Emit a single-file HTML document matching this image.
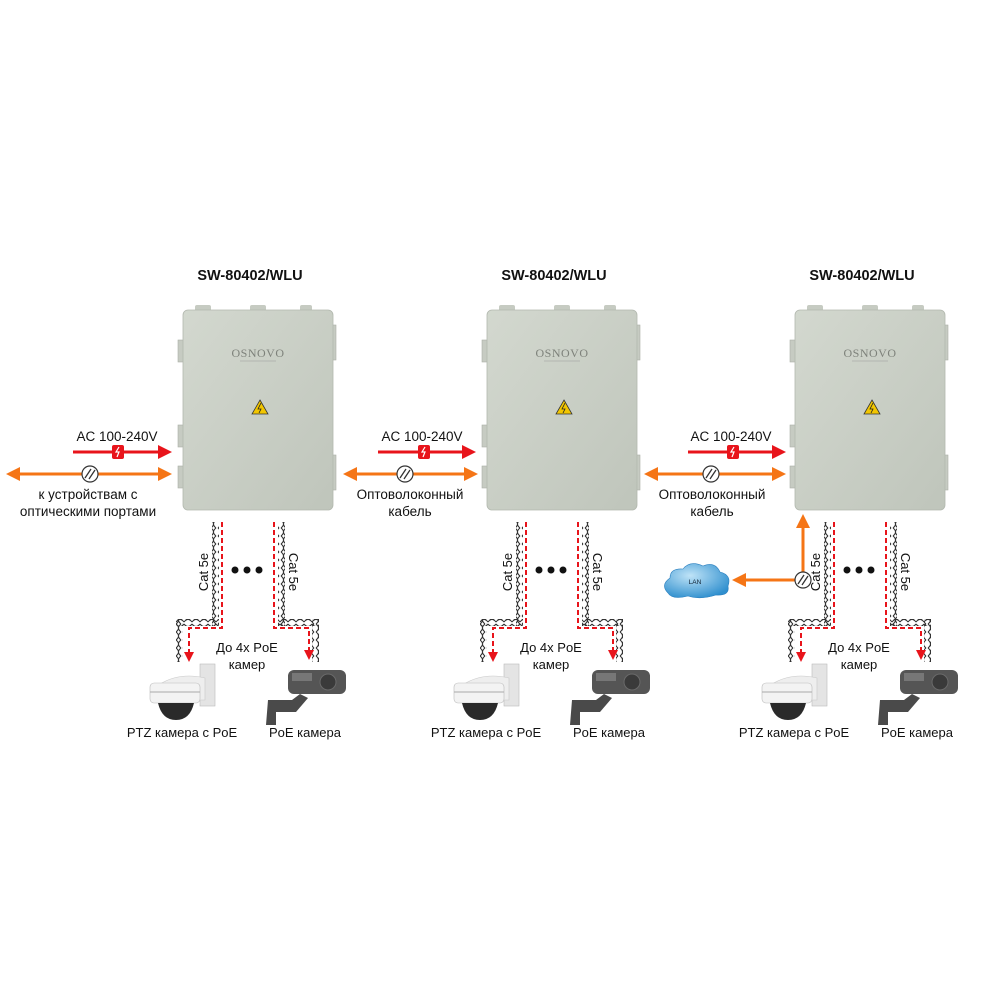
<!DOCTYPE html>
<html><head><meta charset="utf-8"><style>
html,body{margin:0;padding:0;background:#fff;}
svg{display:block;font-family:"Liberation Sans",Arial,sans-serif;}
</style></head><body>
<svg width="1000" height="1000" viewBox="0 0 1000 1000" xmlns="http://www.w3.org/2000/svg">
<defs>
<pattern id="tv" width="7" height="8" patternUnits="userSpaceOnUse">
<path d="M1,0 Q6,4 1,8 M6,0 Q1,4 6,8" fill="none" stroke="#333" stroke-width="1.1"/>
</pattern>
<pattern id="th" width="8" height="7" patternUnits="userSpaceOnUse">
<path d="M0,1 Q4,6 8,1 M0,6 Q4,1 8,6" fill="none" stroke="#333" stroke-width="1.1"/>
</pattern>
<linearGradient id="bx" x1="0" y1="0" x2="1" y2="1">
<stop offset="0" stop-color="#d3d8cf"/><stop offset="1" stop-color="#bfc5bb"/>
</linearGradient>
<radialGradient id="cl" cx="0.4" cy="0.35" r="0.7">
<stop offset="0" stop-color="#bfe3f7"/><stop offset="1" stop-color="#2f8fce"/>
</radialGradient>
<g id="unit">
<text x="250" y="280" text-anchor="middle" font-size="14.5" font-weight="bold" fill="#111">SW-80402/WLU</text>
<rect x="178" y="340" width="8" height="22" fill="#c6cbc2" stroke="#aab0a6" stroke-width="0.6"/>
<rect x="178" y="425" width="8" height="22" fill="#c6cbc2" stroke="#aab0a6" stroke-width="0.6"/>
<rect x="178" y="466" width="8" height="22" fill="#c6cbc2" stroke="#aab0a6" stroke-width="0.6"/>
<rect x="330" y="325" width="6" height="35" fill="#c6cbc2" stroke="#aab0a6" stroke-width="0.6"/>
<rect x="330" y="455" width="6" height="35" fill="#c6cbc2" stroke="#aab0a6" stroke-width="0.6"/>
<rect x="195" y="305" width="16" height="8" rx="2" fill="#c6cbc2"/>
<rect x="250" y="305" width="16" height="8" rx="2" fill="#c6cbc2"/>
<rect x="300" y="305" width="12" height="8" rx="2" fill="#c6cbc2"/>
<rect x="183" y="310" width="150" height="200" rx="5" fill="url(#bx)" stroke="#b2b8ae" stroke-width="0.8"/>
<text x="258" y="357" text-anchor="middle" font-family="Liberation Serif,serif" font-size="12" fill="#7d817a" letter-spacing="0.5">OSNOVO</text>
<line x1="240" y1="361" x2="276" y2="361" stroke="#999" stroke-width="0.6"/>
<polygon points="260,400 268,414 252,414" fill="#f2c600" stroke="#333" stroke-width="0.8"/>
<path d="M261,403 L258,409 L261,409 L259,413" stroke="#222" stroke-width="0.8" fill="none"/>
<rect x="212" y="522" width="7" height="104" fill="url(#tv)"/>
<rect x="176" y="619" width="43" height="7" fill="url(#th)"/>
<rect x="176" y="619" width="7" height="43" fill="url(#tv)"/>
<path d="M222,522 V628 H189 V652" fill="none" stroke="#e8141b" stroke-width="2" stroke-dasharray="5,3"/>
<polygon points="184,652 194,652 189,662" fill="#e8141b"/>
<rect x="278" y="522" width="7" height="104" fill="url(#tv)"/>
<rect x="278" y="619" width="41" height="7" fill="url(#th)"/>
<rect x="312" y="619" width="7" height="43" fill="url(#tv)"/>
<path d="M274,522 V628 H309 V650" fill="none" stroke="#e8141b" stroke-width="2" stroke-dasharray="5,3"/>
<polygon points="304,650 314,650 309,660" fill="#e8141b"/>
<text transform="translate(208,572) rotate(-90)" text-anchor="middle" font-size="13" fill="#111">Cat 5e</text>
<text transform="translate(289,572) rotate(90)" text-anchor="middle" font-size="13" fill="#111">Cat 5e</text>
<circle cx="235" cy="570" r="3.5" fill="#111"/><circle cx="247" cy="570" r="3.5" fill="#111"/><circle cx="259" cy="570" r="3.5" fill="#111"/>
<text x="247" y="652" text-anchor="middle" font-size="13" fill="#111">До 4х PoE</text>
<text x="247" y="669" text-anchor="middle" font-size="13" fill="#111">камер</text>
<rect x="200" y="664" width="15" height="42" fill="#e4e4e4" stroke="#bbb" stroke-width="0.6"/>
<path d="M160,684 Q180,672 205,678 L205,700 L160,700 Z" fill="#eeeeee" stroke="#c8c8c8" stroke-width="0.6"/>
<rect x="150" y="683" width="50" height="20" rx="4" fill="#f3f3f3" stroke="#bbb" stroke-width="0.6"/>
<line x1="150" y1="692" x2="200" y2="692" stroke="#aaa" stroke-width="1"/>
<path d="M158,703 H194 Q190,720 176,720 Q162,720 158,703 Z" fill="#2a2a2a"/>
<path d="M268,700 H292 L300,694 L308,698 L296,712 H276 V725 H266 Z" fill="#4a4a4a"/>
<rect x="288" y="670" width="58" height="24" rx="6" fill="#555"/>
<rect x="292" y="673" width="20" height="8" fill="#777"/>
<circle cx="328" cy="682" r="8" fill="#3a3a3a" stroke="#6a6a6a"/>
<text x="182" y="737" text-anchor="middle" font-size="13" fill="#111">PTZ камера с PoE</text>
<text x="305" y="737" text-anchor="middle" font-size="13" fill="#111">PoE камера</text>
</g>
</defs>

<use href="#unit"/>
<use href="#unit" transform="translate(304,0)"/>
<use href="#unit" transform="translate(612,0)"/>

<text x="117" y="441" text-anchor="middle" font-size="13.5" fill="#111">AC 100-240V</text>
<line x1="73" y1="452" x2="160" y2="452" stroke="#e8141b" stroke-width="3"/>
<polygon points="158,445 172,452 158,459" fill="#e8141b"/>
<rect x="112" y="445" width="12" height="14" rx="2" fill="#e8141b"/>
<path d="M119,447 L116,452 L119,452 L117,457" stroke="#fff" stroke-width="1.2" fill="none"/>
<line x1="18" y1="474" x2="160" y2="474" stroke="#f57516" stroke-width="3"/>
<polygon points="20,467 6,474 20,481" fill="#f57516"/>
<polygon points="158,467 172,474 158,481" fill="#f57516"/>
<circle cx="90" cy="474" r="8" fill="#fff" stroke="#333" stroke-width="1.2"/>
<path d="M85,478 L91,469 M89,479 L95,470" stroke="#333" stroke-width="1.3"/>
<text x="88" y="499" text-anchor="middle" font-size="13.5" fill="#111">к устройствам с</text>
<text x="88" y="516" text-anchor="middle" font-size="13.5" fill="#111">оптическими портами</text>

<text x="422" y="441" text-anchor="middle" font-size="13.5" fill="#111">AC 100-240V</text>
<line x1="378" y1="452" x2="464" y2="452" stroke="#e8141b" stroke-width="3"/>
<polygon points="462,445 476,452 462,459" fill="#e8141b"/>
<rect x="418" y="445" width="12" height="14" rx="2" fill="#e8141b"/>
<path d="M425,447 L422,452 L425,452 L423,457" stroke="#fff" stroke-width="1.2" fill="none"/>
<line x1="355" y1="474" x2="466" y2="474" stroke="#f57516" stroke-width="3"/>
<polygon points="357,467 343,474 357,481" fill="#f57516"/>
<polygon points="464,467 478,474 464,481" fill="#f57516"/>
<circle cx="405" cy="474" r="8" fill="#fff" stroke="#333" stroke-width="1.2"/>
<path d="M400,478 L406,469 M404,479 L410,470" stroke="#333" stroke-width="1.3"/>
<text x="410" y="499" text-anchor="middle" font-size="13.5" fill="#111">Оптоволоконный</text>
<text x="410" y="516" text-anchor="middle" font-size="13.5" fill="#111">кабель</text>

<text x="731" y="441" text-anchor="middle" font-size="13.5" fill="#111">AC 100-240V</text>
<line x1="688" y1="452" x2="774" y2="452" stroke="#e8141b" stroke-width="3"/>
<polygon points="772,445 786,452 772,459" fill="#e8141b"/>
<rect x="727" y="445" width="12" height="14" rx="2" fill="#e8141b"/>
<path d="M734,447 L731,452 L734,452 L732,457" stroke="#fff" stroke-width="1.2" fill="none"/>
<line x1="656" y1="474" x2="774" y2="474" stroke="#f57516" stroke-width="3"/>
<polygon points="658,467 644,474 658,481" fill="#f57516"/>
<polygon points="772,467 786,474 772,481" fill="#f57516"/>
<circle cx="711" cy="474" r="8" fill="#fff" stroke="#333" stroke-width="1.2"/>
<path d="M706,478 L712,469 M710,479 L716,470" stroke="#333" stroke-width="1.3"/>
<text x="712" y="499" text-anchor="middle" font-size="13.5" fill="#111">Оптоволоконный</text>
<text x="712" y="516" text-anchor="middle" font-size="13.5" fill="#111">кабель</text>

<line x1="803" y1="580" x2="803" y2="526" stroke="#f57516" stroke-width="3"/>
<polygon points="796,528 803,514 810,528" fill="#f57516"/>
<line x1="803" y1="580" x2="744" y2="580" stroke="#f57516" stroke-width="3"/>
<polygon points="746,573 732,580 746,587" fill="#f57516"/>
<circle cx="803" cy="580" r="8" fill="#fff" stroke="#333" stroke-width="1.2"/>
<path d="M798,584 L804,575 M802,585 L808,576" stroke="#333" stroke-width="1.3"/>
<path d="M668,593 Q660,585 670,578 Q670,568 683,569 Q690,560 703,566 Q715,561 720,572 Q732,575 728,586 Q730,596 716,595 Q700,600 688,596 Q672,600 668,593 Z" fill="url(#cl)" stroke="#2a7fbf" stroke-width="0.6"/>
<text x="695" y="584" text-anchor="middle" font-size="6.5" fill="#123">LAN</text>
</svg>
</body></html>
